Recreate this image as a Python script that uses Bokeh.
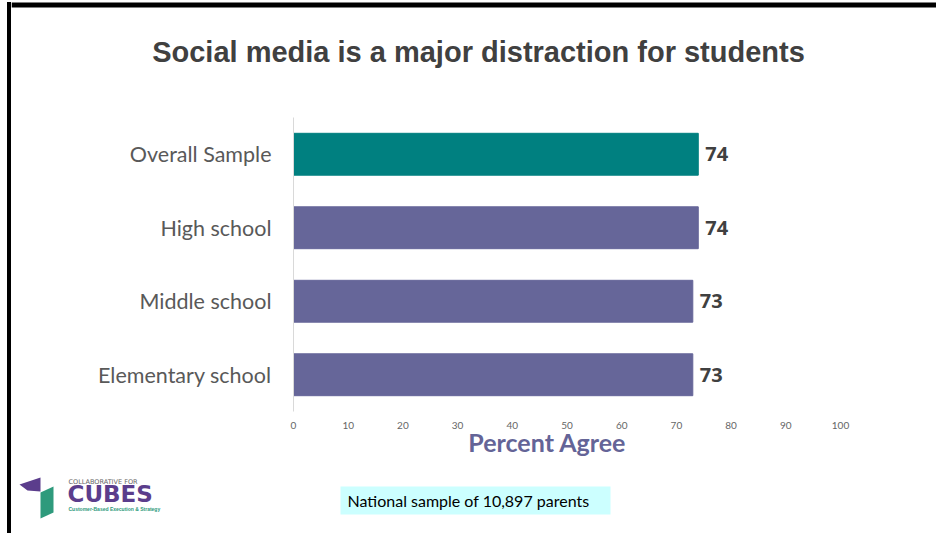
from bokeh.plotting import figure
from bokeh.layouts import column, row
from bokeh.models import (ColumnDataSource, FactorRange, Range1d, Label, BoxAnnotation,
                          PolyAnnotation, FixedTicker, LinearAxis, Spacer)
from bokeh.core.properties import value
from bokeh.embed import file_html
from bokeh.resources import INLINE

# ---- data ----
categories = ["Overall Sample", "High school", "Middle school", "Elementary school"]
percent_agree = [74, 74, 73, 73]
bar_colors = ["#008080", "#666699", "#666699", "#666699"]
x_ticks = [0, 10, 20, 30, 40, 50, 60, 70, 80, 90, 100]
title_text = "Social media is a major distraction for students"
x_title = "Percent Agree"
note_text = "National sample of 10,897 parents"

W, H = 936, 533
LEFT_GAP = 7
BORDER_W = 4
X0 = LEFT_GAP + BORDER_W          # page x where the right-hand column starts
CW = W - X0                       # width of the right-hand column
TOP_H = 117
FRAME_H = 294
BOTTOM_PANEL = 52
MAIN_H = FRAME_H + BOTTOM_PANEL
BOT_H = H - TOP_H - MAIN_H


def deco_fig(w, h):
    f = figure(width=w, height=h, output_backend="svg", toolbar_location=None,
               x_range=Range1d(0, w), y_range=Range1d(h, 0),
               x_axis_type=None, y_axis_type=None,
               min_border=0, min_border_left=0, min_border_right=0,
               min_border_top=0, min_border_bottom=0)
    f.outline_line_color = None
    f.xgrid.grid_line_color = None
    f.ygrid.grid_line_color = None
    f.background_fill_color = "white"
    f.border_fill_color = "white"
    return f


def canvas_box(f, l, r, t, b, color):
    f.add_layout(BoxAnnotation(left=l, right=r, top=t, bottom=b,
                               left_units="canvas", right_units="canvas",
                               top_units="canvas", bottom_units="canvas",
                               fill_color=color, fill_alpha=1, line_color=None))


def canvas_label(f, x, y, text, **kw):
    f.add_layout(Label(x=x, y=y, x_units="canvas", y_units="canvas", text=text, **kw))


# ---- left border column ----
left_col = row(Spacer(width=LEFT_GAP, height=H),
               column(Spacer(width=BORDER_W, height=2),
                      Spacer(width=BORDER_W, height=H - 2, styles={"background-color": "black"}),
                      spacing=0),
               spacing=0)

# ---- top strip: border + title ----
top = deco_fig(CW, TOP_H)
canvas_box(top, 0, CW, 2, 7, "black")
canvas_label(top, 478 - X0, 51, title_text, text_align="center", text_baseline="middle",
             text_font="Liberation Sans", text_font_style="bold",
             text_font_size="29px", text_color="#404040")

# ---- main bar chart ----
src = ColumnDataSource(dict(cat=categories, val=percent_agree, color=bar_colors,
                            lbl=[str(v) for v in percent_agree]))

p = figure(width=CW, height=MAIN_H, output_backend="svg", toolbar_location=None,
           y_range=FactorRange(factors=list(reversed(categories))),
           x_range=Range1d(0, 100),
           min_border_left=293 - X0, min_border_right=96,
           min_border_top=0, min_border_bottom=BOTTOM_PANEL)
p.outline_line_color = None
p.background_fill_color = "white"
p.border_fill_color = "white"
p.xgrid.grid_line_color = None
p.ygrid.grid_line_color = None

p.hbar(y="cat", right="val", left=0, height=0.57, color="color", source=src)
p.text(x="val", y="cat", text="lbl", source=src, x_offset=7,
       text_baseline="middle", text_align="left",
       text_font=value("Open Sans"), text_font_style="bold",
       text_font_size="20px", text_color="#404040")

ya = p.yaxis[0]
ya.axis_line_color = "#d9d9d9"
ya.axis_line_width = 1
ya.major_tick_line_color = None
ya.major_tick_out = 0
ya.major_tick_in = 0
ya.minor_tick_line_color = None
ya.major_label_standoff = 22
ya.major_label_text_font = "Lato"
ya.major_label_text_font_size = "21.5px"
ya.major_label_text_color = "#595959"

xa = p.xaxis[0]
xa.ticker = FixedTicker(ticks=x_ticks)
xa.axis_line_color = None
xa.major_tick_line_color = None
xa.major_tick_out = 0
xa.major_tick_in = 0
xa.minor_tick_line_color = None
xa.major_label_standoff = 10
xa.major_label_text_font = "Lato"
xa.major_label_text_font_size = "10px"
xa.major_label_text_color = "#666666"

# axis title as a second (label-only) axis so it can sit left of the frame centre
title_pos = 46.4
xa2 = LinearAxis(ticker=FixedTicker(ticks=[title_pos]),
                 major_label_overrides={title_pos: x_title})
xa2.axis_line_color = None
xa2.major_tick_line_color = None
xa2.major_tick_out = 0
xa2.major_tick_in = 0
xa2.minor_tick_line_color = None
xa2.major_label_standoff = -5
xa2.major_label_text_font = "Lato"
xa2.major_label_text_font_style = "bold"
xa2.major_label_text_font_size = "25px"
xa2.major_label_text_color = "#646497"
p.add_layout(xa2, "below")

# ---- bottom strip: logo, note ----
bot = deco_fig(CW, BOT_H)
Y0 = TOP_H + MAIN_H  # page y of the bottom strip's top edge
canvas_box(bot, 340 - X0, 610 - X0, 486 - Y0, 514 - Y0, "#ccffff")
canvas_label(bot, 347 - X0, 500 - Y0, note_text, text_align="left", text_baseline="middle",
             text_font="Lato", text_font_size="16px", text_color="#000000")

bot.add_layout(PolyAnnotation(xs=[x - X0 for x in [19, 40, 40, 27]],
                              ys=[y - Y0 for y in [484, 477, 491, 490]],
                              xs_units="canvas", ys_units="canvas",
                              fill_color="#5b3d8c", fill_alpha=1, line_color=None))
bot.add_layout(PolyAnnotation(xs=[x - X0 for x in [40, 53, 53, 40]],
                              ys=[y - Y0 for y in [492, 486, 512, 518]],
                              xs_units="canvas", ys_units="canvas",
                              fill_color="#2e9a7c", fill_alpha=1, line_color=None))
canvas_label(bot, 68 - X0, 481 - Y0, "COLLABORATIVE FOR",
             text_align="left", text_baseline="middle",
             text_font="DejaVu Sans", text_font_size="6.5px", text_color="#666666")
canvas_label(bot, 67 - X0, 493 - Y0, "CUBES", text_align="left", text_baseline="middle",
             text_font="DejaVu Sans", text_font_style="bold",
             text_font_size="23px", text_color="#5b3d8c")
canvas_label(bot, 68 - X0, 508 - Y0, "Customer-Based Execution & Strategy",
             text_align="left", text_baseline="middle",
             text_font="Liberation Sans", text_font_style="bold",
             text_font_size="5px", text_color="#2e9a7c")

# each figure sits in its own row so that Bokeh does not align their frames
layout = row(left_col,
             column(row(top, spacing=0), row(p, spacing=0), row(bot, spacing=0), spacing=0),
             spacing=0)
open("out.html", "w").write(file_html(layout, INLINE))
